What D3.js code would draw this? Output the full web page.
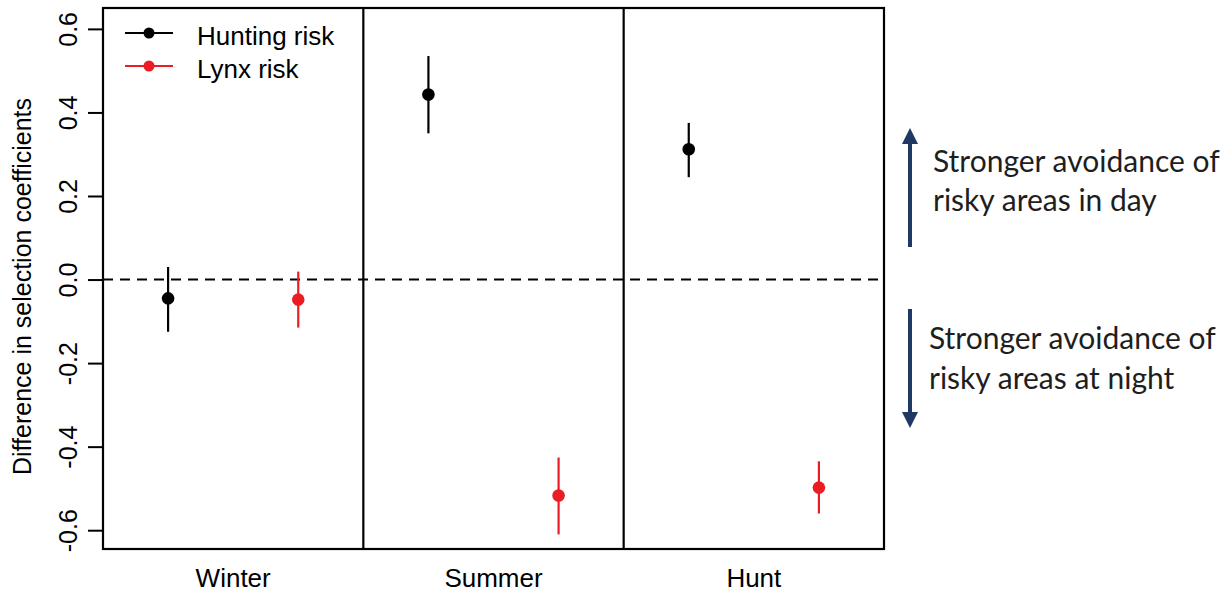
<!DOCTYPE html>
<html>
<head>
<meta charset="utf-8">
<script src="https://cdn.jsdelivr.net/npm/d3@7"></script>
<style>
  html, body { margin: 0; padding: 0; background: #fff; }
  svg { display: block; }
  text { font-family: "Liberation Sans", Arial, sans-serif; fill: #000; }
  .note { font-family: Lato, "Open Sans", sans-serif; fill: #1e1e1e; }
</style>
</head>
<body>
<svg id="chart" width="1231" height="596"></svg>
<script>
// Seasons shown as panels along the x axis
const seasons = ["Winter", "Summer", "Hunt"];

// Difference in selection coefficients (day vs night) with 95% intervals
const huntingEst   = [-0.045, 0.443, 0.312];
const huntingLower = [-0.125, 0.350, 0.245];
const huntingUpper = [ 0.030, 0.535, 0.375];

const lynxEst   = [-0.048, -0.517, -0.498];
const lynxLower = [-0.115, -0.610, -0.560];
const lynxUpper = [ 0.019, -0.426, -0.435];

const yTicks = [-0.6, -0.4, -0.2, 0.0, 0.2, 0.4, 0.6];

const seriesNames  = ["Hunting risk", "Lynx risk"];
const seriesColors = ["#000000", "#ec1c24"];

const svg = d3.select("#chart");

const plot = { left: 103, right: 884, top: 8, bottom: 549 };

const x = d3.scaleBand().domain(seasons).range([plot.left, plot.right]).padding(0);
const y = d3.scaleLinear().domain([-0.645, 0.65]).range([plot.bottom, plot.top]);

// zero reference line
svg.append("line")
  .attr("x1", plot.left).attr("x2", plot.right)
  .attr("y1", y(0)).attr("y2", y(0))
  .attr("stroke", "#000").attr("stroke-width", 2)
  .attr("stroke-dasharray", "10,7");

// panel dividers
svg.selectAll("line.divider")
  .data(seasons.slice(1))
  .join("line")
  .attr("class", "divider")
  .attr("x1", d => x(d)).attr("x2", d => x(d))
  .attr("y1", plot.top).attr("y2", plot.bottom)
  .attr("stroke", "#000").attr("stroke-width", 2.2);

// y axis (plain hyphen for negative numbers)
const fmt = d3.format(".1f");
const yAxis = d3.axisLeft(y)
  .tickValues(yTicks)
  .tickSize(15)
  .tickFormat(d => fmt(d).replace("\u2212", "-"));
const gy = svg.append("g")
  .attr("transform", `translate(${plot.left},0)`)
  .call(yAxis);
gy.select(".domain").remove();
gy.selectAll(".tick line").attr("stroke", "#000").attr("stroke-width", 2);
gy.selectAll(".tick text")
  .attr("x", null).attr("dy", null)
  .attr("transform", "translate(-26,0) rotate(-90)")
  .attr("text-anchor", "middle")
  .style("font-size", "25px")
  .style("font-family", "Liberation Sans, Arial, sans-serif")
  .attr("fill", "#000");

// x axis labels (no tick marks)
const xAxis = d3.axisBottom(x).tickSize(0).tickPadding(0);
const gx = svg.append("g")
  .attr("transform", `translate(0,${plot.bottom})`)
  .call(xAxis);
gx.select(".domain").remove();
gx.selectAll(".tick text")
  .attr("y", 38).attr("dy", null)
  .style("font-size", "26px")
  .style("font-family", "Liberation Sans, Arial, sans-serif")
  .attr("fill", "#000");

// y axis title
svg.append("text")
  .attr("transform", `translate(31,${(plot.top + plot.bottom) / 2 + 8}) rotate(-90)`)
  .attr("text-anchor", "middle")
  .style("font-size", "25px")
  .text("Difference in selection coefficients");

// plot frame
svg.append("rect")
  .attr("x", plot.left).attr("y", plot.top)
  .attr("width", plot.right - plot.left).attr("height", plot.bottom - plot.top)
  .attr("fill", "none").attr("stroke", "#000").attr("stroke-width", 2.2);

// estimates with intervals
const bw = x.bandwidth();
const series = [
  { est: huntingEst, lo: huntingLower, hi: huntingUpper, offset: 0.25, color: seriesColors[0] },
  { est: lynxEst,    lo: lynxLower,    hi: lynxUpper,    offset: 0.75, color: seriesColors[1] }
];
series.forEach(s => {
  const rows = seasons.map((season, i) => ({ season, est: s.est[i], lo: s.lo[i], hi: s.hi[i] }));
  const g = svg.append("g");
  g.selectAll("line")
    .data(rows)
    .join("line")
    .attr("x1", d => x(d.season) + bw * s.offset)
    .attr("x2", d => x(d.season) + bw * s.offset)
    .attr("y1", d => y(d.lo)).attr("y2", d => y(d.hi))
    .attr("stroke", s.color).attr("stroke-width", 2.2);
  g.selectAll("circle")
    .data(rows)
    .join("circle")
    .attr("cx", d => x(d.season) + bw * s.offset)
    .attr("cy", d => y(d.est))
    .attr("r", 6.3)
    .attr("fill", s.color);
});

// legend
const legend = svg.append("g");
seriesNames.forEach((name, i) => {
  const ly = 33 + i * 33;
  legend.append("line")
    .attr("x1", 125).attr("x2", 173).attr("y1", ly).attr("y2", ly)
    .attr("stroke", seriesColors[i]).attr("stroke-width", 2);
  legend.append("circle")
    .attr("cx", 149).attr("cy", ly).attr("r", 5.5)
    .attr("fill", seriesColors[i]);
  legend.append("text")
    .attr("x", 197).attr("y", ly + 12)
    .style("font-size", "26px")
    .text(name);
});

// interpretation arrows
const arrowColor = "#1f3864";
const defs = svg.append("defs");
defs.append("marker")
  .attr("id", "head")
  .attr("viewBox", "0 0 16 16")
  .attr("refX", 8).attr("refY", 8)
  .attr("markerWidth", 16).attr("markerHeight", 16)
  .attr("markerUnits", "userSpaceOnUse")
  .attr("orient", "auto")
  .append("path")
  .attr("d", "M0,0 L16,8 L0,16 Z")
  .attr("fill", arrowColor);

svg.append("line")
  .attr("x1", 910).attr("x2", 910).attr("y1", 247).attr("y2", 136)
  .attr("stroke", arrowColor).attr("stroke-width", 4)
  .attr("marker-end", "url(#head)");
svg.append("line")
  .attr("x1", 910).attr("x2", 910).attr("y1", 309).attr("y2", 420)
  .attr("stroke", arrowColor).attr("stroke-width", 4)
  .attr("marker-end", "url(#head)");

const notes = [
  { x: 933, y: 172, text: "Stronger avoidance of" },
  { x: 933, y: 211, text: "risky areas in day" },
  { x: 929, y: 349, text: "Stronger avoidance of" },
  { x: 929, y: 389, text: "risky areas at night" }
];
svg.selectAll("text.note")
  .data(notes)
  .join("text")
  .attr("class", "note")
  .attr("x", d => d.x).attr("y", d => d.y)
  .style("font-size", "30px")
  .text(d => d.text);
</script>
</body>
</html>
